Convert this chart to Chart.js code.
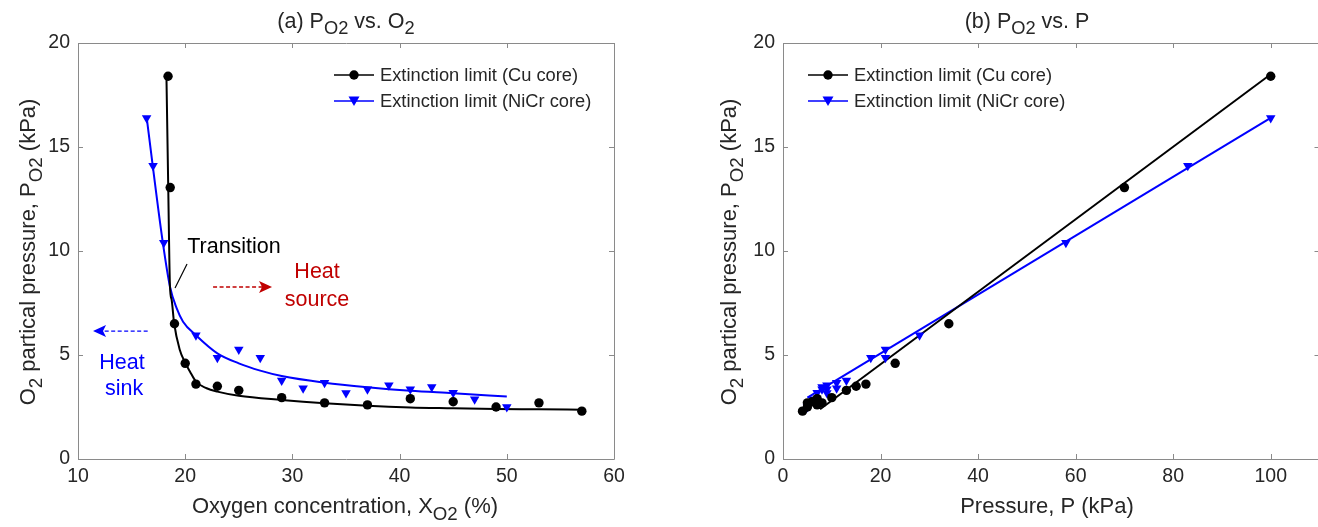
<!DOCTYPE html>
<html>
<head>
<meta charset="utf-8">
<script src="https://cdn.jsdelivr.net/npm/chart.js@4.4.1/dist/chart.umd.min.js"></script>
<style>
html,body{margin:0;padding:0;background:#fff;}
#wrap{position:relative;width:1318px;height:527px;overflow:hidden;}
#c1{position:absolute;left:0;top:0;}
#c2{position:absolute;left:659px;top:0;}
</style>
</head>
<body>
<div id="wrap">
<canvas id="c1" width="659" height="527"></canvas>
<canvas id="c2" width="666" height="527"></canvas>
</div>
<script>
// ---------- data ----------
// Cu core extinction limit
const cuX   = [18.4, 18.6, 19, 20, 21, 23, 25, 29, 33, 37, 41, 45, 49, 53, 57];      // O2 concentration (%)
const cuPO2 = [18.4, 13.05, 6.5, 4.6, 3.6, 3.5, 3.3, 2.95, 2.7, 2.6, 2.9, 2.75, 2.5, 2.7, 2.3]; // kPa
const cuP   = [100, 70, 34, 23, 17, 15, 13, 10, 8, 7, 7, 6, 5, 5, 4];              // total pressure (kPa)
// NiCr core extinction limit
const niX   = [16.4, 17, 18, 21, 23, 25, 27, 29, 31, 33, 35, 37, 39, 41, 43, 45, 47, 50];
const niPO2 = [16.4, 14.1, 10.4, 5.95, 4.87, 5.27, 4.87, 3.78, 3.4, 3.67, 3.17, 3.35, 3.54, 3.35, 3.46, 3.19, 2.87, 2.5];
const niP   = [100, 83, 58, 28, 21, 21, 18, 13, 11, 11, 9, 9, 9, 8, 8, 7, 6, 5];
// fitted curves, panel (a)
const cuFitX = [18.25, 18.42, 18.58, 18.74, 18.96, 19.5, 19.95, 20.45, 21, 22, 23, 25, 29, 33, 37, 41, 45, 49, 53, 57];
const cuFitY = [18.4, 13.0, 8.28, 7.64, 6.55, 5.24, 4.68, 4.2, 3.72, 3.4, 3.24, 3.04, 2.84, 2.68, 2.56, 2.48, 2.44, 2.4, 2.39, 2.37];
const niFitX = [16.4, 16.97, 17.9, 18.58, 19.2, 19.8, 21, 23, 25, 27, 29, 33, 37, 41, 45, 50];
const niFitY = [16.45, 14.1, 10.45, 8.28, 7.25, 6.6, 5.95, 5.08, 4.6, 4.25, 3.99, 3.67, 3.45, 3.28, 3.16, 3.0];
// fitted lines, panel (b)
const cuLineP = [7.6, 100];
const cuLineY = [2.39, 18.5];
const niLineP = [5, 100];
const niLineY = [2.95, 16.4];
// tick labels
const xTicksA = [10, 20, 30, 40, 50, 60];
const xTicksB = [0, 20, 40, 60, 80, 100];
const yTicks  = [0, 5, 10, 15, 20];
const legendLabels = ['Extinction limit (Cu core)', 'Extinction limit (NiCr core)'];

// ---------- helpers ----------
const FONT = '"Liberation Sans", Arial, Helvetica, sans-serif';
const TXT = '#262626';
const FRAME = '#8a8a8a';
const SUB = 0.85;
const pts = (xs, ys) => xs.map((x, i) => ({x, y: ys[i]}));

function richWidth(ctx, parts, size) {
  let w = 0;
  for (const [t, sub] of parts) {
    ctx.font = (sub ? size * SUB : size) + 'px ' + FONT;
    w += ctx.measureText(t).width;
  }
  return w;
}
function drawRich(ctx, parts, x, y, size, color, rot) {
  ctx.save();
  ctx.translate(x, y);
  if (rot) ctx.rotate(rot);
  const w = richWidth(ctx, parts, size);
  let cx = -w / 2;
  ctx.fillStyle = color;
  ctx.textBaseline = 'alphabetic';
  ctx.textAlign = 'left';
  for (const [t, sub] of parts) {
    ctx.font = (sub ? size * SUB : size) + 'px ' + FONT;
    ctx.fillText(t, cx, sub ? size * 0.3 : 0);
    cx += ctx.measureText(t).width;
  }
  ctx.restore();
}
function drawMarker(ctx, kind, x, y, color) {
  ctx.save();
  ctx.fillStyle = color;
  ctx.beginPath();
  if (kind === 'circle') {
    ctx.arc(x, y, 4.7, 0, Math.PI * 2);
  } else {
    ctx.moveTo(x - 5.5, y - 4.5);
    ctx.lineTo(x + 5.5, y - 4.5);
    ctx.lineTo(x, y + 5);
    ctx.closePath();
  }
  ctx.fill();
  ctx.restore();
}

function framePlugin(opts) {
  return {
    id: 'frame_' + opts.id,
    afterDraw(chart) {
      const ctx = chart.ctx, a = chart.chartArea;
      const xs = chart.scales.x, ys = chart.scales.y;
      ctx.save();
      ctx.strokeStyle = FRAME;
      ctx.lineWidth = 1;
      ctx.beginPath();
      ctx.rect(Math.round(a.left) + 0.5, Math.round(a.top) + 0.5, Math.round(a.right - a.left), Math.round(a.bottom - a.top));
      ctx.stroke();
      ctx.beginPath();
      const L = 5;
      for (const v of opts.xTicks) {
        const px = Math.round(xs.getPixelForValue(v)) + 0.5;
        ctx.moveTo(px, a.bottom); ctx.lineTo(px, a.bottom - L);
        ctx.moveTo(px, a.top); ctx.lineTo(px, a.top + L);
      }
      for (const v of yTicks) {
        const py = Math.round(ys.getPixelForValue(v)) + 0.5;
        ctx.moveTo(a.left, py); ctx.lineTo(a.left + L, py);
        ctx.moveTo(a.right, py); ctx.lineTo(a.right - L, py);
      }
      ctx.stroke();
      ctx.restore();

      // titles & axis labels
      drawRich(ctx, opts.title, opts.titleX, 28, 21.5, TXT, 0);
      drawRich(ctx, opts.xLabel, opts.xLabelX, 513, 22, TXT, 0);
      drawRich(ctx, [['O', false], ['2', true], [' partical pressure, P', false], ['O2', true], [' (kPa)', false]],
               opts.yLabelX, 252, 22, TXT, -Math.PI / 2);

      // legend
      const lg = opts.legend;
      const rows = [
        {c: '#000000', m: 'circle', t: legendLabels[0]},
        {c: '#0000ff', m: 'tri', t: legendLabels[1]}
      ];
      rows.forEach((r, i) => {
        const y = lg.y + i * 26;
        ctx.save();
        ctx.strokeStyle = r.c; ctx.lineWidth = 1.5;
        ctx.beginPath(); ctx.moveTo(lg.x, y); ctx.lineTo(lg.x + 40, y); ctx.stroke();
        ctx.restore();
        drawMarker(ctx, r.m, lg.x + 20, y, r.c);
        ctx.save();
        ctx.fillStyle = TXT; ctx.font = '18.3px ' + FONT;
        ctx.textBaseline = 'middle'; ctx.textAlign = 'left';
        ctx.fillText(r.t, lg.x + 46, y + 1);
        ctx.restore();
      });
      if (opts.extra) opts.extra(chart);
    }
  };
}

function arrow(ctx, x1, y, x2, color) {
  ctx.save();
  ctx.strokeStyle = color; ctx.fillStyle = color; ctx.lineWidth = 1.3;
  ctx.setLineDash([4, 2.5]);
  const dir = Math.sign(x2 - x1);
  ctx.beginPath(); ctx.moveTo(x1, y); ctx.lineTo(x2 - dir * 10, y); ctx.stroke();
  ctx.setLineDash([]);
  ctx.beginPath();
  ctx.moveTo(x2, y); ctx.lineTo(x2 - dir * 13, y - 6); ctx.lineTo(x2 - dir * 10, y); ctx.lineTo(x2 - dir * 13, y + 6);
  ctx.closePath(); ctx.fill();
  ctx.restore();
}

function annotationsA(chart) {
  const ctx = chart.ctx, xs = chart.scales.x, ys = chart.scales.y;
  const X = v => xs.getPixelForValue(v), Y = v => ys.getPixelForValue(v);
  ctx.save();
  ctx.font = '21.5px ' + FONT; ctx.textAlign = 'center'; ctx.textBaseline = 'middle';
  ctx.fillStyle = '#000';
  ctx.fillText('Transition', X(24.55), Y(10.19));
  ctx.strokeStyle = '#000'; ctx.lineWidth = 1.2;
  ctx.beginPath(); ctx.moveTo(X(20.17), Y(9.375)); ctx.lineTo(X(19.05), Y(8.22)); ctx.stroke();
  ctx.fillStyle = '#c00000';
  ctx.fillText('Heat', X(32.3), Y(8.99));
  ctx.fillText('source', X(32.3), Y(7.64));
  ctx.fillStyle = '#0000ff';
  ctx.fillText('Heat', X(14.1), Y(4.6));
  ctx.fillText('sink', X(14.3), Y(3.37));
  ctx.restore();
  arrow(ctx, X(22.6), Y(8.27), X(28.1), '#c00000');
  arrow(ctx, X(16.5), Y(6.15), X(11.4), '#0000ff');
}

function baseOptions(xmin, xmax, xTicks, yWidth, padRight) {
  return {
    responsive: false,
    animation: false,
    layout: {padding: {top: 43, right: padRight, left: 0, bottom: 0}},
    plugins: {legend: {display: false}, title: {display: false}, tooltip: {enabled: false}},
    scales: {
      x: {
        type: 'linear', min: xmin, max: xmax,
        afterBuildTicks: s => { s.ticks = xTicks.map(v => ({value: v})); },
        afterFit: s => { s.height = 68; },
        grid: {display: false, drawTicks: false},
        border: {display: false},
        ticks: {color: TXT, font: {family: FONT, size: 19.5}, padding: 6, maxRotation: 0, autoSkip: false}
      },
      y: {
        type: 'linear', min: 0, max: 20,
        afterBuildTicks: s => { s.ticks = yTicks.map(v => ({value: v})); },
        afterFit: s => { s.width = yWidth; },
        grid: {display: false, drawTicks: false},
        border: {display: false},
        ticks: {color: TXT, font: {family: FONT, size: 19.5}, padding: 8, autoSkip: false}
      }
    }
  };
}

const lineDS = (data, color) => ({type: 'line', data, borderColor: color, borderWidth: 2, pointRadius: 0,
  fill: false, cubicInterpolationMode: 'monotone', order: 2});
const ptDS = (data, color, style) => ({type: 'scatter', data, backgroundColor: color, borderColor: color,
  pointStyle: style, pointRadius: style === 'circle' ? 4.7 : 5.5, rotation: style === 'triangle' ? 180 : 0,
  borderWidth: 0, showLine: false, order: 1});

// ---------- panel (a) ----------
new Chart(document.getElementById('c1'), {
  type: 'scatter',
  data: {datasets: [
    lineDS(pts(cuFitX, cuFitY), '#000000'),
    lineDS(pts(niFitX, niFitY), '#0000ff'),
    ptDS(pts(cuX, cuPO2), '#000000', 'circle'),
    ptDS(pts(niX, niPO2), '#0000ff', 'triangle')
  ]},
  options: baseOptions(10, 60, xTicksA, 78, 45),
  plugins: [framePlugin({
    id: 'a', xTicks: xTicksA,
    title: [['(a) P', false], ['O2', true], [' vs. O', false], ['2', true]], titleX: 346,
    xLabel: [['Oxygen concentration, X', false], ['O2', true], [' (%)', false]], xLabelX: 345,
    yLabelX: 35,
    legend: {x: 334, y: 75},
    extra: annotationsA
  })]
});

// ---------- panel (b) ----------
new Chart(document.getElementById('c2'), {
  type: 'scatter',
  data: {datasets: [
    lineDS(pts(cuLineP, cuLineY), '#000000'),
    lineDS(pts(niLineP, niLineY), '#0000ff'),
    ptDS(pts(cuP, cuPO2), '#000000', 'circle'),
    ptDS(pts(niP, niPO2), '#0000ff', 'triangle')
  ]},
  options: baseOptions(0, 110, xTicksB, 124, 0),
  plugins: [framePlugin({
    id: 'b', xTicks: xTicksB,
    title: [['(b) P', false], ['O2', true], [' vs. P', false]], titleX: 1027 - 659,
    xLabel: [['Pressure, P (kPa)', false]], xLabelX: 1047 - 659,
    yLabelX: 736 - 659,
    legend: {x: 808 - 659, y: 75}
  })]
});
</script>
</body>
</html>
